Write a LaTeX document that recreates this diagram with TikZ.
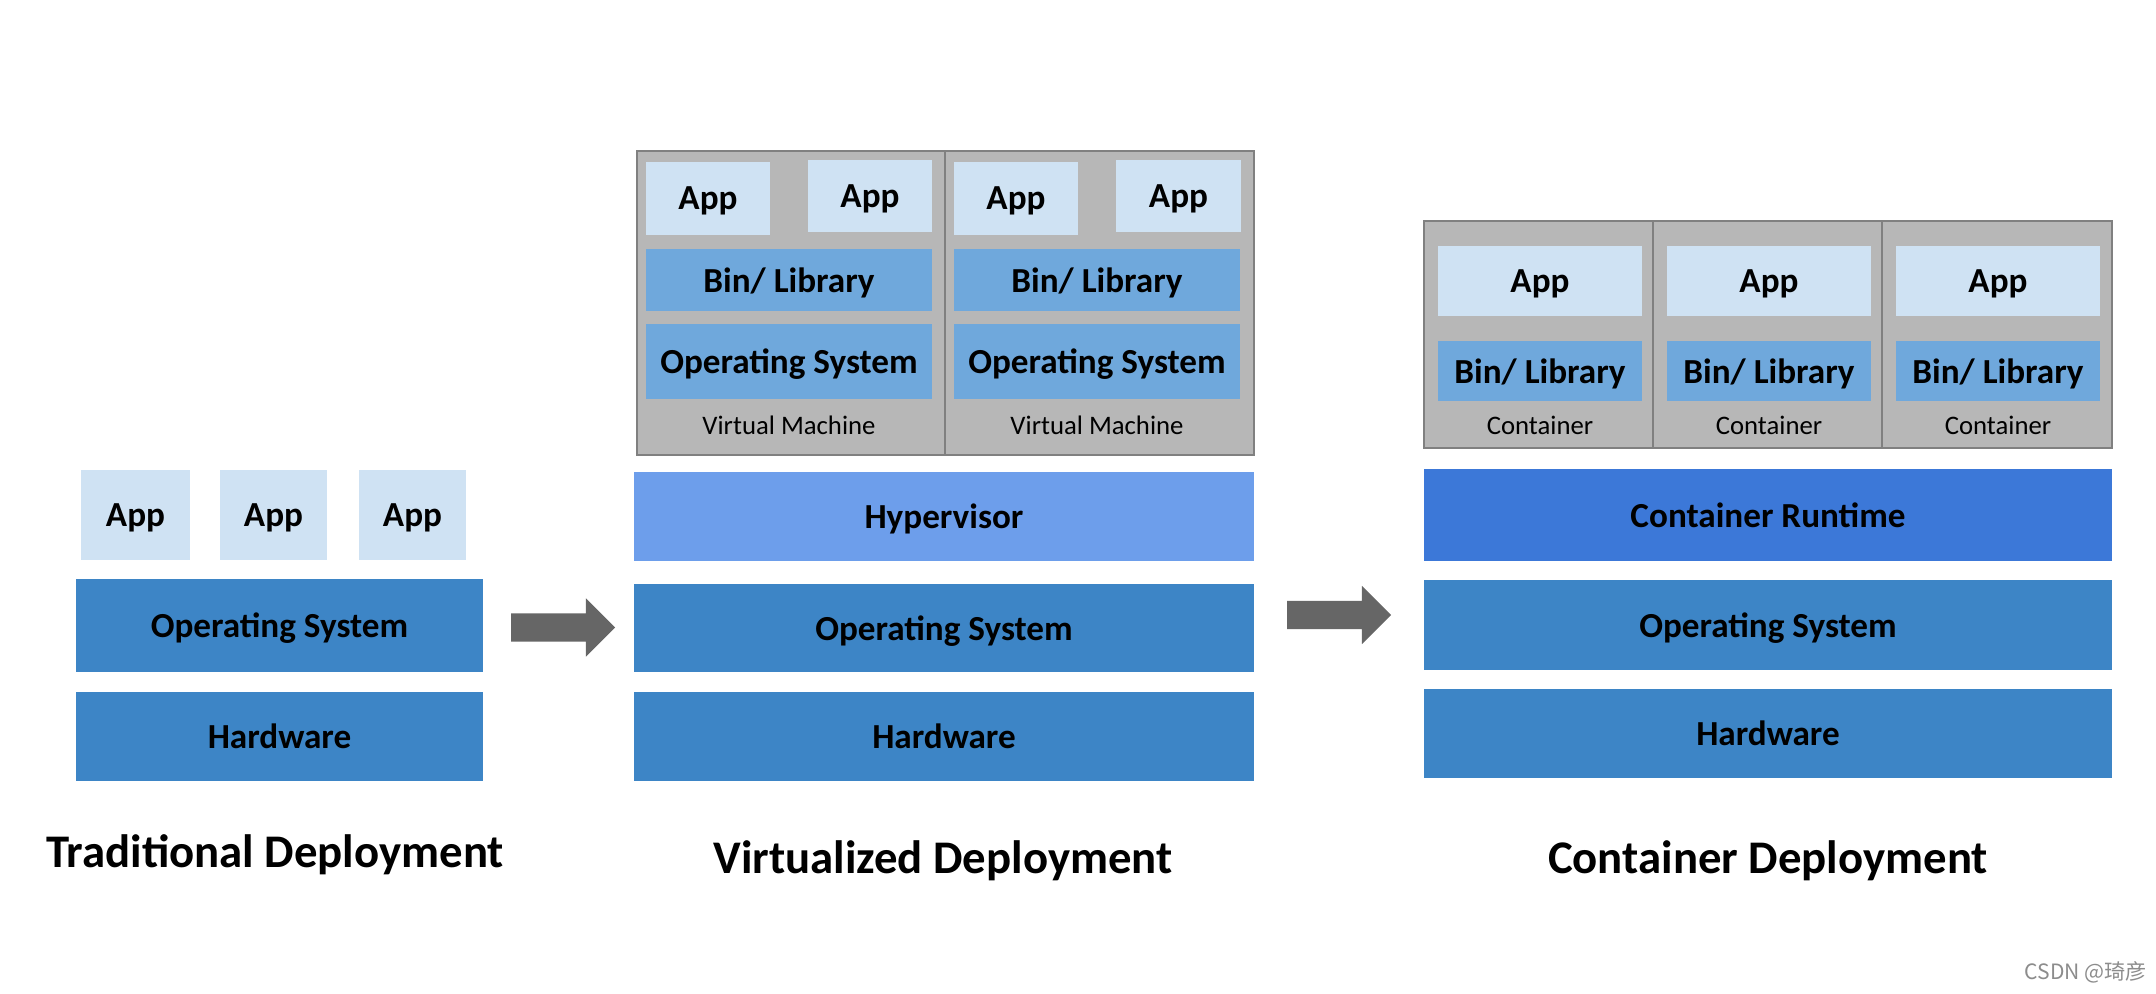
\documentclass[tikz,border=0pt]{standalone}
\usepackage{fontspec}
\setmainfont{Carlito}
\newfontfamily\cjk{Noto Sans CJK SC}
\usepackage{tikz}
\usetikzlibrary{shapes.arrows}
\usetikzlibrary{positioning}
\definecolor{appblue}{HTML}{CFE2F3}
\definecolor{osblue}{HTML}{3D85C6}
\definecolor{libblue}{HTML}{6FA8DC}
\definecolor{hypblue}{HTML}{6D9EEB}
\definecolor{rtblue}{HTML}{3C78D8}
\definecolor{boxgray}{HTML}{B7B7B7}
\definecolor{edgegray}{HTML}{808080}
\definecolor{arrgray}{HTML}{666666}
\tikzset{
  layer/.style={rectangle,inner sep=0pt,text=black,font=\bfseries\fontsize{10}{12}\selectfont,text depth=0pt},
  app/.style={layer,fill=appblue},
  os/.style={layer,fill=osblue},
  lib/.style={layer,fill=libblue},
  cell/.style={rectangle,inner sep=0pt,fill=boxgray,draw=edgegray,line width=0.5pt},
  small/.style={font=\fontsize{7.6}{9}\selectfont},
  title/.style={font=\bfseries\fontsize{13.3}{15}\selectfont,yshift=-0.04cm},
  bigarrow/.style={single arrow,fill=arrgray,inner sep=0.135cm,single arrow head extend=0.15cm,minimum height=1.04cm}
}
\begin{document}
\begin{tikzpicture}[x=0.01cm,y=-0.01cm]
\useasboundingbox (0,0) rectangle (2156,993);
% traditional
\node[app,minimum width=1.09cm,minimum height=0.90cm] (app1a) at (135.5,515) {App};
\node[app,minimum width=1.07cm,minimum height=0.90cm] (app1b) at (273.5,515) {App};
\node[app,minimum width=1.07cm,minimum height=0.90cm] (app1c) at (412.5,515) {App};
\node[os,minimum width=4.07cm,minimum height=0.93cm] (os1) at (279.5,625.5) {Operating System};
\node[os,minimum width=4.07cm,minimum height=0.89cm] (hw1) at (279.5,736.5) {Hardware};
\node[title] (t1) at (275,851) {Traditional Deployment};
\node[bigarrow] (arr1) at (556,627.5) {};
% virtualized
\node[cell,minimum width=3.08cm,minimum height=3.04cm] (vm1) at (791,303) {};
\node[cell,minimum width=3.09cm,minimum height=3.04cm] (vm2) at (1099.5,303) {};
\node[app,minimum width=1.24cm,minimum height=0.73cm] (app2a) at (708,198.5) {App};
\node[app,minimum width=1.24cm,minimum height=0.72cm] (app2b) at (870,196) {App};
\node[lib,minimum width=2.86cm,minimum height=0.62cm] (lib2a) at (789,280) {Bin/ Library};
\node[lib,minimum width=2.86cm,minimum height=0.75cm] (os2a) at (789,361.5) {Operating System};
\node[small] (vm1l) at (789,425) {Virtual Machine};
\node[app,minimum width=1.24cm,minimum height=0.73cm] (app2c) at (1016,198.5) {App};
\node[app,minimum width=1.24cm,minimum height=0.72cm] (app2d) at (1178.5,196) {App};
\node[lib,minimum width=2.86cm,minimum height=0.62cm] (lib2b) at (1097,280) {Bin/ Library};
\node[lib,minimum width=2.86cm,minimum height=0.75cm] (os2b) at (1097,361.5) {Operating System};
\node[small] (vm2l) at (1097,425) {Virtual Machine};
\node[layer,fill=hypblue,minimum width=6.20cm,minimum height=0.89cm] (hyp) at (944,516.5) {Hypervisor};
\node[os,minimum width=6.20cm,minimum height=0.88cm] (os2) at (944,628) {Operating System};
\node[os,minimum width=6.20cm,minimum height=0.89cm] (hw2) at (944,736.5) {Hardware};
\node[title] (t2) at (943,857) {Virtualized Deployment};
\node[bigarrow] (arr2) at (1332,615) {};
% container
\node[cell,minimum width=2.29cm,minimum height=2.27cm] (c1) at (1538.5,334.5) {};
\node[cell,minimum width=2.29cm,minimum height=2.27cm] (c2) at (1767.5,334.5) {};
\node[cell,minimum width=2.30cm,minimum height=2.27cm] (c3) at (1997,334.5) {};
\node[app,minimum width=2.04cm,minimum height=0.70cm] (app3a) at (1540,281) {App};
\node[app,minimum width=2.04cm,minimum height=0.70cm] (app3b) at (1769,281) {App};
\node[app,minimum width=2.04cm,minimum height=0.70cm] (app3c) at (1998,281) {App};
\node[lib,minimum width=2.04cm,minimum height=0.60cm] (lib3a) at (1540,371) {Bin/ Library};
\node[lib,minimum width=2.04cm,minimum height=0.60cm] (lib3b) at (1769,371) {Bin/ Library};
\node[lib,minimum width=2.04cm,minimum height=0.60cm] (lib3c) at (1998,371) {Bin/ Library};
\node[small] (c1l) at (1540,425) {Container};
\node[small] (c2l) at (1769,425) {Container};
\node[small] (c3l) at (1998,425) {Container};
\node[layer,fill=rtblue,minimum width=6.88cm,minimum height=0.92cm] (rt) at (1768,515) {Container Runtime};
\node[os,minimum width=6.88cm,minimum height=0.90cm] (os3) at (1768,625) {Operating System};
\node[os,minimum width=6.88cm,minimum height=0.89cm] (hw3) at (1768,733.5) {Hardware};
\node[title] (t3) at (1768,857) {Container Deployment};
\node[text=black!45,font=\cjk\fontsize{6}{7}\selectfont] (mark) at (2086,972) {CSDN @琦彦};
\end{tikzpicture}
\end{document}
